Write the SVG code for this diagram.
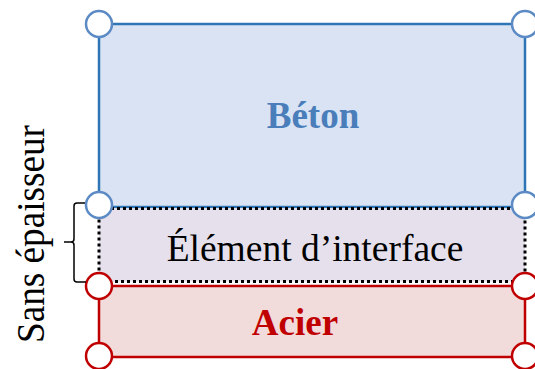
<svg xmlns="http://www.w3.org/2000/svg" width="535" height="369" viewBox="0 0 535 369">
<style>
.t{font-family:"Liberation Serif","Times New Roman",serif;}
.blue{stroke:#2E75B6;stroke-width:2.5;}
.red{stroke:#C00000;stroke-width:2.5;}
.cb{fill:#fff;stroke:#5B8AC4;stroke-width:2.5;}
.cr{fill:#fff;stroke:#C00000;stroke-width:2.5;}
</style>
<rect width="535" height="369" fill="#fff"/>
<g id="beton">
<rect x="99" y="24" width="426" height="183" fill="#DAE3F3" class="blue"/>
<text class="t" x="313" y="128" font-size="37" font-weight="bold" fill="#4A7EBB" text-anchor="middle">Béton</text>
</g>
<g id="interface">
<rect x="99" y="208.5" width="426" height="73" fill="#E5E0EC" stroke="#000" stroke-width="3" stroke-dasharray="3,3"/>
<text class="t" x="315" y="261" font-size="37.5" fill="#000" text-anchor="middle">Élément d’interface</text>
</g>
<g id="acier">
<rect x="99" y="286" width="426" height="71" fill="#F2DCDB" class="red"/>
<text class="t" x="295" y="335" font-size="37" font-weight="bold" fill="#C00000" text-anchor="middle">Acier</text>
</g>
<g id="noeuds">
<circle cx="99" cy="24" r="13" class="cb"/>
<circle cx="525" cy="24" r="13" class="cb"/>
<circle cx="99" cy="205" r="13" class="cb"/>
<circle cx="525" cy="205" r="13" class="cb"/>
<circle cx="99" cy="286" r="13" class="cr"/>
<circle cx="525" cy="286" r="13" class="cr"/>
<circle cx="99" cy="356" r="13" class="cr"/>
<circle cx="525" cy="356" r="13" class="cr"/>
</g>
<g id="accolade">
<path d="M85,203 H77 Q74,203 74,206 V239 Q74,242 71,242 H64 M71,242 Q74,242 74,245 V279 Q74,282 77,282 H86" fill="none" stroke="#000" stroke-width="1.5"/>
<text class="t" transform="translate(44,234) rotate(-90)" font-size="40" fill="#000" text-anchor="middle" textLength="218" lengthAdjust="spacingAndGlyphs">Sans épaisseur</text>
</g>
</svg>
